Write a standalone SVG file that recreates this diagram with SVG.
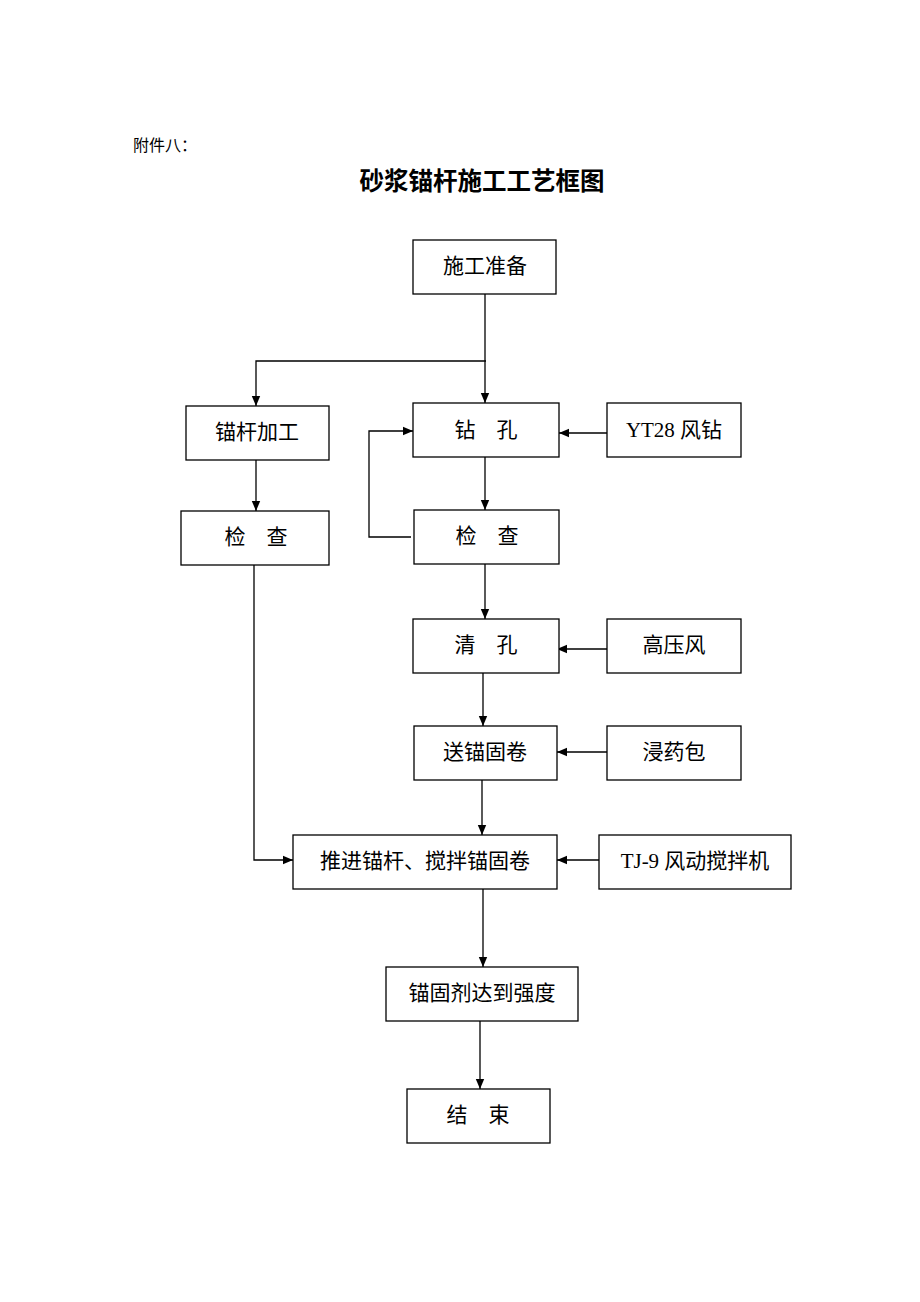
<svg xmlns="http://www.w3.org/2000/svg" width="920" height="1302" viewBox="0 0 920 1302">
<defs>
<marker id="ah" markerWidth="10" markerHeight="10" refX="10" refY="5" orient="auto" markerUnits="userSpaceOnUse">
<path d="M0,0.8 L10,5 L0,9.2 Z" fill="#000"/>
</marker>
<style>
.b{fill:#fff;stroke:#000;stroke-width:1.3}
.t{font-family:"Liberation Serif","Noto Sans CJK SC",serif;font-size:21px;fill:#000;text-anchor:middle;dominant-baseline:central}
.c{fill:none;stroke:#000;stroke-width:1.3}
</style>
</defs>
<rect width="920" height="1302" fill="#fff"/>
<text x="133" y="145" style="font-family:'Liberation Serif','Noto Sans CJK SC',serif;font-size:16px;dominant-baseline:central">附件八：</text>
<text x="482" y="181" style="font-family:'Liberation Sans','Noto Sans CJK SC',sans-serif;font-size:24.5px;font-weight:bold;text-anchor:middle;dominant-baseline:central">砂浆锚杆施工工艺框图</text>

<g id="connectors">
<path class="c" d="M485,294 V403" marker-end="url(#ah)"/>
<path class="c" d="M486,361 H256 V406" marker-end="url(#ah)"/>
<path class="c" d="M256,460 V511" marker-end="url(#ah)"/>
<path class="c" d="M254,565 V860 H293" marker-end="url(#ah)"/>
<path class="c" d="M485,457 V510" marker-end="url(#ah)"/>
<path class="c" d="M411,537 H369 V431 H413" marker-end="url(#ah)"/>
<path class="c" d="M485,564 V619" marker-end="url(#ah)"/>
<path class="c" d="M483,673 V726" marker-end="url(#ah)"/>
<path class="c" d="M482,780 V835" marker-end="url(#ah)"/>
<path class="c" d="M483,889 V967" marker-end="url(#ah)"/>
<path class="c" d="M480,1021 V1089" marker-end="url(#ah)"/>
<path class="c" d="M607,433 H559" marker-end="url(#ah)"/>
<path class="c" d="M607,649 H557" marker-end="url(#ah)"/>
<path class="c" d="M607,752 H557" marker-end="url(#ah)"/>
<path class="c" d="M599,860 H557" marker-end="url(#ah)"/>
</g>

<g id="n1"><rect class="b" x="413" y="240" width="143" height="54"/><text class="t" x="485" y="266">施工准备</text></g>
<g id="n2"><rect class="b" x="186" y="406" width="143" height="54"/><text class="t" x="257" y="432">锚杆加工</text></g>
<g id="n3"><rect class="b" x="413" y="403" width="146" height="54"/><text class="t" x="486" y="430">钻　孔</text></g>
<g id="n4"><rect class="b" x="607" y="403" width="134" height="54"/><text class="t" x="674" y="430">YT28 风钻</text></g>
<g id="n5"><rect class="b" x="181" y="511" width="148" height="54"/><text class="t" x="256" y="537">检　查</text></g>
<g id="n6"><rect class="b" x="414" y="510" width="145" height="54"/><text class="t" x="487" y="536">检　查</text></g>
<g id="n7"><rect class="b" x="413" y="619" width="146" height="54"/><text class="t" x="486" y="645">清　孔</text></g>
<g id="n8"><rect class="b" x="607" y="619" width="134" height="54"/><text class="t" x="674" y="645">高压风</text></g>
<g id="n9"><rect class="b" x="414" y="726" width="143" height="54"/><text class="t" x="485" y="752">送锚固卷</text></g>
<g id="n10"><rect class="b" x="607" y="726" width="134" height="54"/><text class="t" x="674" y="752">浸药包</text></g>
<g id="n11"><rect class="b" x="293" y="835" width="264" height="54"/><text class="t" x="425" y="861">推进锚杆、搅拌锚固卷</text></g>
<g id="n12"><rect class="b" x="599" y="835" width="192" height="54"/><text class="t" x="695" y="861">TJ-9 风动搅拌机</text></g>
<g id="n13"><rect class="b" x="386" y="967" width="192" height="54"/><text class="t" x="482" y="993">锚固剂达到强度</text></g>
<g id="n14"><rect class="b" x="407" y="1089" width="143" height="54"/><text class="t" x="478" y="1115">结　束</text></g>
</svg>
